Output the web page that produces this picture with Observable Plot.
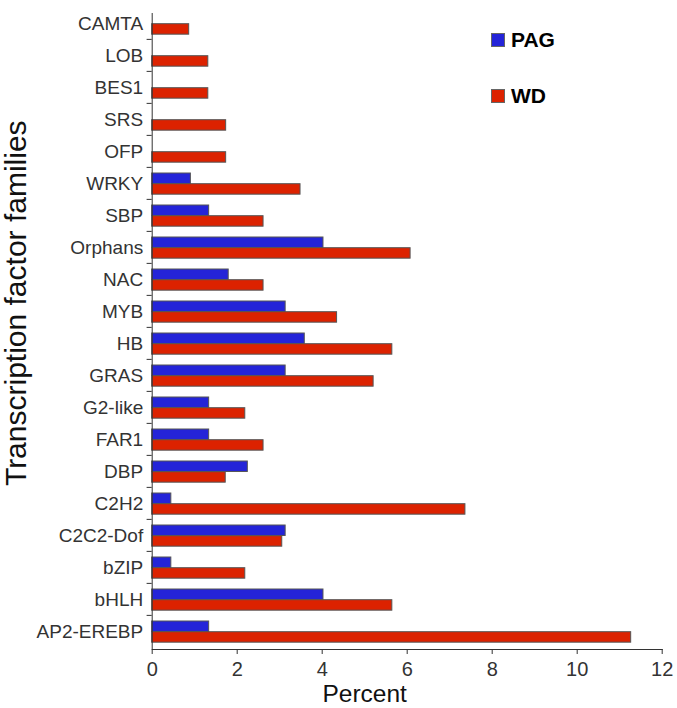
<!DOCTYPE html>
<html><head><meta charset="utf-8">
<script src="https://cdn.jsdelivr.net/npm/d3@7"></script>
<script src="https://cdn.jsdelivr.net/npm/@observablehq/plot@0.6"></script>
<style>
html,body{margin:0;padding:0;background:#fff;}
#wrap{position:relative;width:677px;height:708px;font-family:"Liberation Sans",Arial,sans-serif;}
.legend{position:absolute;left:491px;display:flex;align-items:center;font-weight:bold;font-size:21px;color:#000;line-height:1;}
.sw{width:12px;height:12px;border:1px solid #666;margin-right:6px;}
svg g[aria-label^="x-axis"] text{font-size:20px;}
svg g[aria-label^="y-axis"] text{font-size:19px;}
</style></head><body><div id="wrap"></div>
<script>
const families = ["CAMTA","LOB","BES1","SRS","OFP","WRKY","SBP","Orphans","NAC","MYB","HB","GRAS","G2-like","FAR1","DBP","C2H2","C2C2-Dof","bZIP","bHLH","AP2-EREBP"];
const pag = [0,0,0,0,0,0.91,1.34,4.03,1.80,3.14,3.59,3.14,1.34,1.34,2.25,0.45,3.14,0.45,4.03,1.34];
const wd  = [0.87,1.32,1.32,1.74,1.74,3.49,2.62,6.08,2.62,4.35,5.65,5.21,2.19,2.62,1.73,7.37,3.06,2.19,5.65,11.27];
const series = ["PAG","WD"];
const colors = ["#2424d8","#dc2200"];
const xTicks = [0,2,4,6,8,10,12];
const xLabel = "Percent";
const yLabel = "Transcription factor families";

const pagRows = families.map((f,i)=>({family:f, value:pag[i]})).filter(d=>d.value>0);
const wdRows = families.map((f,i)=>({family:f, value:wd[i]}));

const W = 677, H = 708, mTop = 4.5, mBottom = 59, mLeft = 151.7;
const band = (H - mTop - mBottom) / families.length;

const chart = Plot.plot({
  width: W, height: H,
  marginLeft: mLeft, marginRight: 15.3, marginTop: mTop, marginBottom: mBottom,
  style: {fontFamily: '"Liberation Sans", Arial, sans-serif', color: "#333", background: "#fff"},
  x: {domain: [0,12], ticks: xTicks, tickSize: 5, tickPadding: 7, label: null, line: true},
  y: {domain: families, padding: 0, tickSize: 0, tickPadding: 9, label: null},
  marks: [
    Plot.barX(pagRows, {x: "value", y: "family", fill: colors[0], stroke: "#555", strokeWidth: 1, insetTop: 6, insetBottom: band - 16.7}),
    Plot.barX(wdRows, {x: "value", y: "family", fill: colors[1], stroke: "#555", strokeWidth: 1, insetTop: 16.7, insetBottom: band - 27.4}),
    Plot.ruleX([0], {stroke: "#333", insetTop: 8.5}),
    Plot.ruleY(families.slice(1), {y: d => d, x1: -0.12, x2: 0, dy: -band/2, stroke: "#333"}),
    Plot.text([xLabel], {text: d => d, frameAnchor: "bottom", textAnchor: "middle", dy: 52, dx: -42.5, fontSize: 24.5, fill: "#111"}),
    Plot.text([yLabel], {text: d => d, frameAnchor: "left", textAnchor: "middle", rotate: -90, dx: -135.5, dy: -24, fontSize: 30, fill: "#111"})
  ]
});
const wrap = document.getElementById("wrap");
wrap.appendChild(chart);
const tops = [29, 85];
series.forEach((s,i)=>{
  const d = document.createElement("div");
  d.className = "legend";
  d.style.top = tops[i] + "px";
  d.innerHTML = `<span class="sw" style="background:${colors[i]}"></span><span>${s}</span>`;
  wrap.appendChild(d);
});
</script></body></html>
